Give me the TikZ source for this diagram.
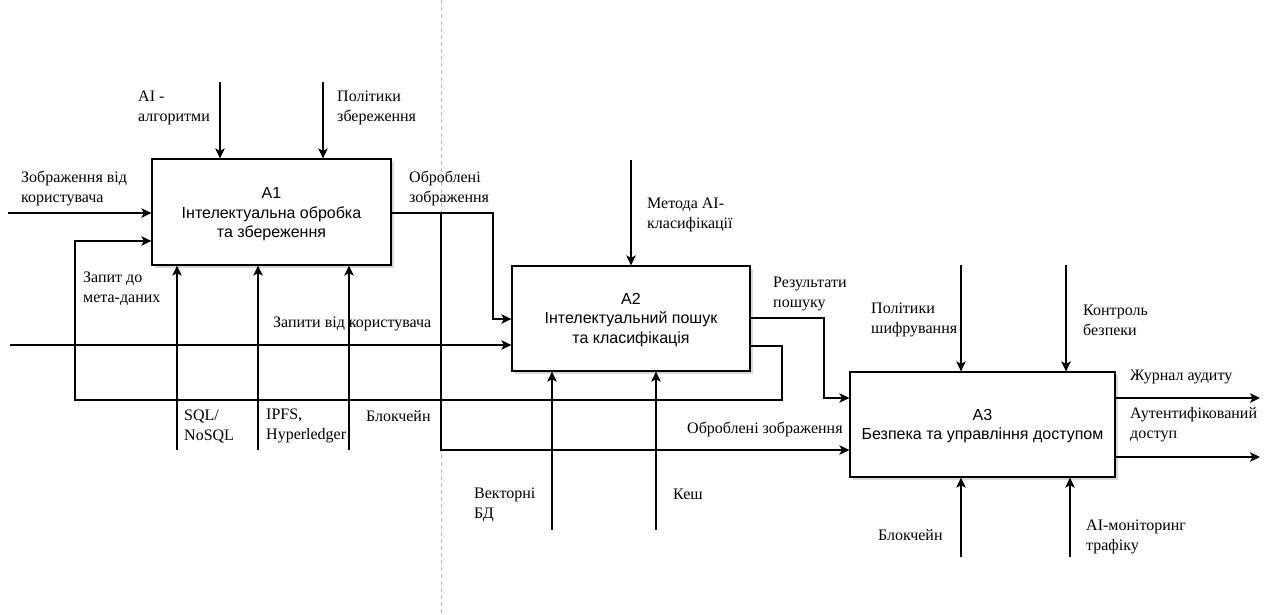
\documentclass[tikz,border=0pt]{standalone}
\usepackage{fontspec}
\setmainfont{Liberation Serif}
\setsansfont{Liberation Sans}
\usetikzlibrary{arrows.meta,shadows}
\begin{document}
\begin{tikzpicture}[x=1pt,y=-1pt,
  box/.style={draw,line width=1.3pt,fill=white,
    drop shadow={shadow xshift=2.5pt,shadow yshift=-3pt,opacity=0.3,fill=gray},
    font=\sffamily\fontsize{16}{19.5}\selectfont,align=center,inner sep=0},
  btxt/.style={font=\sffamily\fontsize{16}{19.5}\selectfont,align=center,inner sep=0},
  lbl/.style={font=\fontsize{16}{20}\selectfont,align=left,inner sep=0,anchor=west},
  arr/.style={line width=1.3pt,-{Stealth[length=10pt,width=9.5pt,inset=2.5pt]}}]
\useasboundingbox (0,0) rectangle (1270,614);
\fill[white] (0,0) rectangle (1270,614);
% dashed divider
\coordinate (dtop) at (441,0);
\coordinate (dbot) at (441,614);
\draw[gray!55,line width=0.8pt,dash pattern=on 4pt off 3pt] (dtop) -- (dbot);
% boxes
\node[box,minimum width=239pt,minimum height=106pt] (A1) at (271.5,212) {};
\node[box,minimum width=238pt,minimum height=105pt] (A2) at (631,318.5) {};
\node[box,minimum width=265pt,minimum height=105pt] (A3) at (982.5,424.5) {};
\node[btxt] (A1t) at ([yshift=-2.5pt]A1.center) {A1\\Інтелектуальна обробка\\та збереження};
\node[btxt] (A2t) at ([yshift=-1.5pt]A2.center) {A2\\Інтелектуальний пошук\\та класифікація};
\node[btxt] (A3t) at ([yshift=-1.5pt]A3.center) {A3\\Безпека та управління доступом};
% free ends
\coordinate (a1t1) at (220,82);
\coordinate (a1t2) at (323,82);
\coordinate (a1l1) at (8,213);
\coordinate (a1b1) at (177,450);
\coordinate (a1b2) at (258,450);
\coordinate (a1b3) at (349,450);
\coordinate (a2t) at (631,160);
\coordinate (a2l) at (10,345);
\coordinate (a2b1) at (552,530);
\coordinate (a2b2) at (656,530);
\coordinate (a3t1) at (961,265);
\coordinate (a3t2) at (1066,265);
\coordinate (a3b1) at (961,557);
\coordinate (a3b2) at (1070,557);
\coordinate (o1) at (1260,398);
\coordinate (o2) at (1260,457);
% A1 arrows
\draw[arr] (a1t1) -- (a1t1|-A1.north);
\draw[arr] (a1t2) -- (a1t2|-A1.north);
\draw[arr] (a1l1) -- (A1.west|-a1l1);
\draw[arr] (a1b1) -- (a1b1|-A1.south);
\draw[arr] (a1b2) -- (a1b2|-A1.south);
\draw[arr] (a1b3) -- (a1b3|-A1.south);
% A1 output to A2 and A3
\draw[arr] (A1.east|-a1l1) -- (493,213) -- (493,319) -- (A2.west|-0,319);
\draw[arr] (441,213) -- (441,450) -- (A3.west|-0,450);
% A2 arrows
\draw[arr] (a2t) -- (a2t|-A2.north);
\draw[arr] (a2l) -- (A2.west|-a2l);
\draw[arr] (a2b1) -- (a2b1|-A2.south);
\draw[arr] (a2b2) -- (a2b2|-A2.south);
% feedback
\draw[arr] (A2.east|-0,346) -- (782,346) -- (782,400) -- (75,400) -- (75,241) -- (A1.west|-0,241);
% A2 -> A3
\draw[arr] (A2.east|-0,318) -- (824,318) -- (824,398) -- (A3.west|-0,398);
% A3 arrows
\draw[arr] (a3t1) -- (a3t1|-A3.north);
\draw[arr] (a3t2) -- (a3t2|-A3.north);
\draw[arr] (a3b1) -- (a3b1|-A3.south);
\draw[arr] (a3b2) -- (a3b2|-A3.south);
\draw[arr] (A3.east|-o1) -- (o1);
\draw[arr] (A3.east|-o2) -- (o2);
% labels
\node[lbl] (l1) at (138,108) {AI -\\алгоритми};
\node[lbl] (l2) at (337,108) {Політики\\збереження};
\node[lbl] (l3) at (21,188) {Зображення від\\користувача};
\node[lbl] (l4) at (409,188) {Оброблені\\зображення};
\node[lbl] (l5) at (83,289) {Запит до\\мета-даних};
\node[lbl] (l6) at (273,324) {Запити від користувача};
\node[lbl] (l7) at (184,426) {SQL/\\NoSQL};
\node[lbl] (l8) at (266,426) {IPFS,\\Hyperledger};
\node[lbl] (l9) at (366,416) {Блокчейн};
\node[lbl] (l10) at (647,214.5) {Метода AI-\\класифікації};
\node[lbl] (l11) at (773,293.5) {Результати\\пошуку};
\node[lbl] (l12) at (687,429) {Оброблені зображення};
\node[lbl] (l13) at (474,504.5) {Векторні\\БД};
\node[lbl] (l14) at (673,494) {Кеш};
\node[lbl] (l15) at (871,320) {Політики\\шифрування};
\node[lbl] (l16) at (1083,320) {Контроль\\безпеки};
\node[lbl] (l17) at (1130,377) {Журнал аудиту};
\node[lbl] (l18) at (1130,425) {Аутентифікований\\доступ};
\node[lbl] (l19) at (878,535) {Блокчейн};
\node[lbl] (l20) at (1086,537) {AI-моніторинг\\трафіку};
\end{tikzpicture}
\end{document}
